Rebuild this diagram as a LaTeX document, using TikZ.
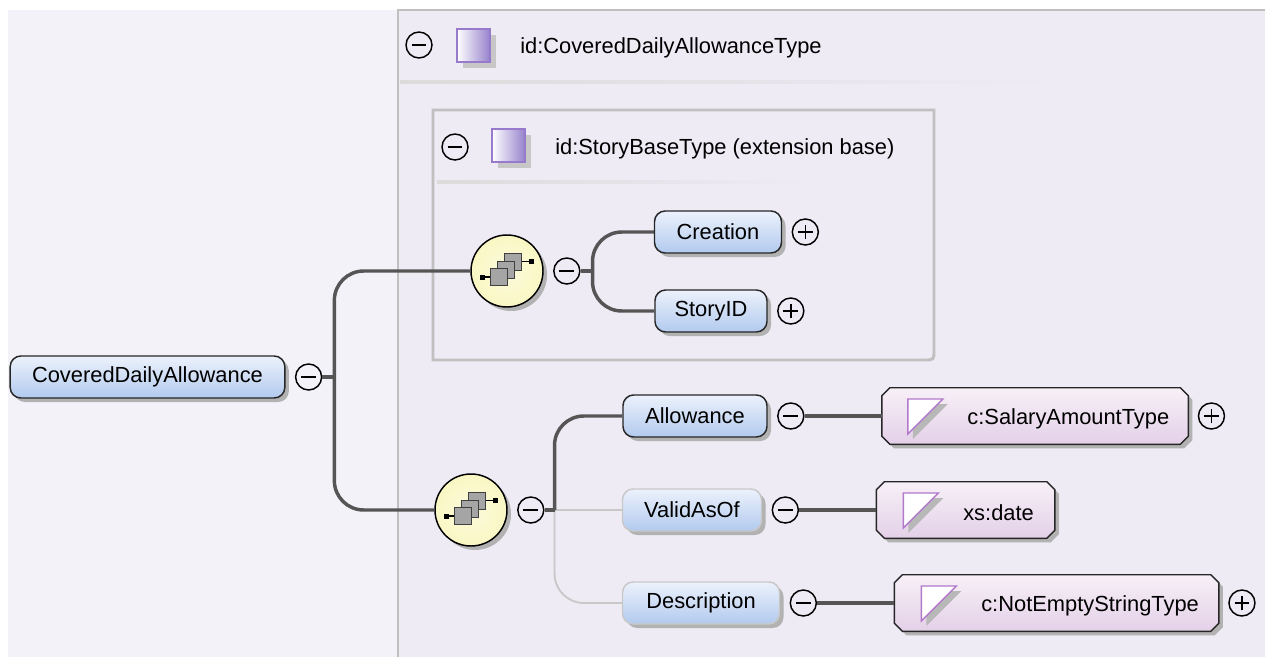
\documentclass[tikz,border=0pt]{standalone}
\usepackage{fontspec}
\setmainfont{Liberation Sans}
\usetikzlibrary{shadows, positioning}
\definecolor{leftpanel}{RGB}{244,242,249}
\definecolor{typepanel}{RGB}{238,235,245}
\definecolor{paneledge}{RGB}{192,192,192}
\definecolor{wire}{RGB}{85,85,85}
\definecolor{wirelight}{RGB}{200,200,200}
\definecolor{elemtop}{RGB}{236,242,252}
\definecolor{elembot}{RGB}{178,202,238}
\definecolor{typetop}{RGB}{247,240,247}
\definecolor{typebot}{RGB}{228,208,232}
\definecolor{seqfill}{RGB}{250,247,196}
\definecolor{iconpurple}{RGB}{150,130,204}
\definecolor{iconedge}{RGB}{152,122,204}
\definecolor{facetedge}{RGB}{178,120,204}
\definecolor{icongray}{RGB}{165,165,165}

\tikzset{
  seqmark/.pic={
    \draw[line width=0.8pt] (-25,6) -- (-17,6);
    \draw[line width=0.8pt] (14,-9.5) -- (24,-9.5);
    \fill (-27.5,3.5) rectangle (-22.5,8.5);
    \fill (21.5,-12) rectangle (26.5,-7);
    \draw[fill=icongray, draw=black!75, line width=0.7pt] (-3,-18) rectangle (14,-1);
    \draw[fill=icongray, draw=black!75, line width=0.7pt] (-10,-10) rectangle (7,7);
    \draw[fill=icongray, draw=black!75, line width=0.7pt] (-17,-2.5) rectangle (0,14.5);
  },
  facetmark/.pic={
    \fill[black!28] (5,5) -- (40,5) -- (5,40) -- cycle;
    \draw[draw=facetedge, fill=white, line width=1pt] (0,0) -- (35,0) -- (0,35) -- cycle;
  }
}
% chamfered outline round a type node
\newcommand{\typeoutline}[1]{%
  \path[typeshape] ([xshift=6pt]#1.north west) -- ([xshift=-6pt]#1.north east)
    -- ([yshift=-6pt]#1.north east) -- ([yshift=6pt]#1.south east)
    -- ([xshift=-6pt]#1.south east) -- ([xshift=6pt]#1.south west)
    -- ([yshift=6pt]#1.south west) -- ([yshift=-6pt]#1.north west) -- cycle;}

\begin{document}
\begin{tikzpicture}[
    x=0.75pt, y=-0.75pt,
    every node/.style={font=\fontsize{16.4}{19}\selectfont},
    boxshadow/.style={drop shadow={shadow xshift=3pt, shadow yshift=-3pt,
      fill=black!30, opacity=1}},
    elem/.style={rectangle, rounded corners=8pt, draw=black!85, line width=1.1pt,
      top color=elemtop, bottom color=elembot, minimum height=31.5pt,
      inner sep=0pt, boxshadow},
    optelem/.style={elem, draw=wirelight},
    typebox/.style={rectangle, minimum height=42pt, inner sep=0pt},
    typeshape/.style={draw=black!85, line width=1.1pt, top color=typetop,
      bottom color=typebot, boxshadow},
    typelabel/.style={anchor=west, inner sep=0pt},
    typeicon/.style={rectangle, minimum size=24.75pt, inner sep=0pt,
      draw=iconedge, line width=1.4pt, left color=white, right color=iconpurple,
      drop shadow={shadow xshift=4.5pt, shadow yshift=-4.5pt,
      fill=black!22, opacity=1}},
    seq/.style={circle, draw=black, line width=1.1pt, inner color=seqfill!60,
      outer color=seqfill, minimum size=54pt, inner sep=0pt, boxshadow},
    collapse/.style={circle, draw=black, line width=1.1pt, minimum size=19.5pt,
      inner sep=0pt, path picture={\draw[line width=1.1pt]
      ([xshift=-5.5pt]path picture bounding box.center) --
      ([xshift=5.5pt]path picture bounding box.center);}},
    expand/.style={collapse, path picture={\draw[line width=1.1pt]
      ([xshift=-5.5pt]path picture bounding box.center) --
      ([xshift=5.5pt]path picture bounding box.center)
      ([yshift=-5.5pt]path picture bounding box.center) --
      ([yshift=5.5pt]path picture bounding box.center);}},
    conn/.style={draw=wire, line width=2.6pt, rounded corners=22pt},
    optconn/.style={draw=wirelight, line width=1.4pt, rounded corners=22pt},
    panelline/.style={draw=paneledge, line width=2.2pt}
  ]
    \useasboundingbox (0,0) rectangle (1265,657);
    % panels
    \fill[white] (0,0) rectangle (1265,657);
    \fill[leftpanel] (8,10) rectangle (398,657);
    \fill[typepanel] (398,10) rectangle (1265,657);
    \draw[panelline] (398,657) -- (398,10) -- (1265,10);
    \shade[left color=black!14, middle color=black!28, right color=typepanel]
      (400,80.5) rectangle (1060,83.5);
    \draw[panelline] (433,360) -- (433,110) -- (934,110) -- (934,350)
      .. controls (934,360) .. (924,360) -- cycle;
    \shade[left color=black!14, middle color=black!26, right color=typepanel]
      (437,180.5) rectangle (812,183.5);

    % type headers
    \node[collapse] (covertypeminus) at (419,45) {};
    \node[typeicon] (covertypeicon) at (473.5,45.5) {};
    \node[typelabel] (covertypetitle) at (520,48) {id:CoveredDailyAllowanceType};
    \node[collapse] (storybaseminus) at (455,147) {};
    \node[typeicon] (storybaseicon) at (508.5,145.5) {};
    \node[typelabel] (storybasetitle) at (555,149) {id:StoryBaseType (extension base)};

    % root element
    \node[elem, minimum width=206pt] (cda) at (147.5,377) {CoveredDailyAllowance};
    \node[collapse, right=7pt of cda] (cdaminus) {};

    % sequences
    \node[seq] (seqone) at (507,271) {};
    \pic at (seqone.center) {seqmark};
    \node[collapse, right=7pt of seqone] (seqoneminus) {};
    \node[seq] (seqtwo) at (471,510) {};
    \pic at (seqtwo.center) {seqmark};
    \node[collapse, right=7pt of seqtwo] (seqtwominus) {};

    % child elements
    \node[elem, minimum width=95.25pt] (creation) at (718,232) {Creation};
    \node[expand, right=7pt of creation] (creationplus) {};
    \node[elem, minimum width=84pt] (storyid) at (711,311) {StoryID};
    \node[expand, right=7pt of storyid] (storyidplus) {};
    \node[elem, minimum width=108pt] (allowance) at (695,416) {Allowance};
    \node[collapse, right=7pt of allowance] (allowanceminus) {};
    \node[optelem, minimum width=104.25pt] (validasof) at (692,510) {ValidAsOf};
    \node[collapse, right=7pt of validasof] (validasofminus) {};
    \node[optelem, minimum width=117.75pt] (description) at (701,603) {Description};
    \node[collapse, right=7pt of description] (descriptionminus) {};

    % simple types
    \node[typebox, minimum width=229.5pt, right=58pt of allowanceminus] (salary) {};
    \typeoutline{salary}
    \pic at ([shift={(26,-17)}]salary.west) {facetmark};
    \node[typelabel] (salarytext) at ([xshift=64pt, yshift=-2pt]salary.west)
      {c:SalaryAmountType};
    \node[expand, right=7pt of salary] (salaryplus) {};
    \node[typebox, minimum width=133.5pt, right=58pt of validasofminus] (datetype) {};
    \typeoutline{datetype}
    \pic at ([shift={(27,-17)}]datetype.west) {facetmark};
    \node[typelabel] (datetext) at ([xshift=65pt, yshift=-2pt]datetype.west) {xs:date};
    \node[typebox, minimum width=243pt, right=58pt of descriptionminus] (nonempty) {};
    \typeoutline{nonempty}
    \pic at ([shift={(27,-17)}]nonempty.west) {facetmark};
    \node[typelabel] (nonemptytext) at ([xshift=65pt, yshift=-2pt]nonempty.west)
      {c:NotEmptyStringType};
    \node[expand, right=7pt of nonempty] (nonemptyplus) {};

    % connectors
    \path (cdaminus.east) ++(12,0) coordinate (cdafork);
    \path (seqoneminus.east) ++(12,0) coordinate (seqonefork);
    \path (seqtwominus.east) ++(10,0) coordinate (seqtwofork);
    \draw[conn] (cdaminus.east) -- (cdafork);
    \draw[conn] (cdafork) |- (seqone.west);
    \draw[conn] (cdafork) |- (seqtwo.west);
    \draw[conn] (seqoneminus.east) -- (seqonefork);
    \draw[conn] (seqonefork) |- (creation.west);
    \draw[conn] (seqonefork) |- (storyid.west);
    \draw[optconn] (seqtwofork) -- (validasof.west);
    \draw[optconn] (seqtwofork) |- (description.west);
    \draw[conn] (seqtwominus.east) -- (seqtwofork);
    \draw[conn] (seqtwofork) |- (allowance.west);
    \draw[conn] (allowanceminus) -- (salary);
    \draw[conn] (validasofminus) -- (datetype);
    \draw[conn] (descriptionminus) -- (nonempty);
\end{tikzpicture}
\end{document}
